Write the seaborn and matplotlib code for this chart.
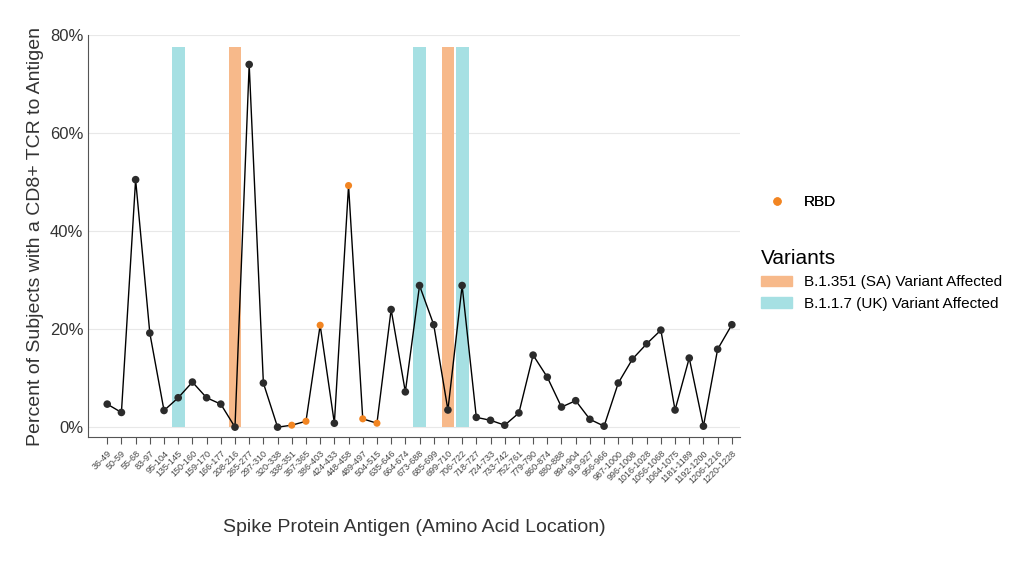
import numpy as np
import pandas as pd
import matplotlib
matplotlib.use("Agg")
import matplotlib.pyplot as plt
import seaborn as sns
from matplotlib.patches import Patch
from matplotlib.lines import Line2D
from matplotlib.ticker import FuncFormatter

antigens = ["36-49", "50-59", "55-68", "83-97", "95-104", "135-145", "150-160", "159-170",
            "166-177", "208-216", "265-277", "297-310", "320-338", "338-351", "357-365",
            "386-403", "424-433", "448-458", "489-497", "504-515", "635-646", "664-674",
            "673-688", "685-699", "699-710", "706-722", "718-727", "724-733", "733-742",
            "752-761", "779-790", "860-874", "880-888", "894-904", "919-927", "956-966",
            "987-1000", "996-1008", "1016-1028", "1056-1068", "1064-1075", "1181-1189",
            "1192-1200", "1206-1216", "1220-1228"]
percent = [4.7, 3.0, 50.5, 19.2, 3.4, 6.0, 9.2, 6.0, 4.7, 0.0, 74.0, 9.0, 0.0, 0.4, 1.2,
           20.8, 0.8, 49.3, 1.7, 0.8, 24.0, 7.2, 28.9, 20.9, 3.5, 28.9, 2.0, 1.4, 0.4, 2.9,
           14.7, 10.2, 4.1, 5.4, 1.6, 0.2, 9.0, 13.9, 17.0, 19.8, 3.5, 14.1, 0.2, 15.9, 20.9]
rbd = ["338-351", "357-365", "386-403", "448-458", "489-497", "504-515"]
sa_affected = ["208-216", "699-710"]
uk_affected = ["135-145", "673-688", "706-722"]
bar_height = 77.5

SA_COLOR = "#f7b98a"
UK_COLOR = "#a6e0e3"
RBD_COLOR = "#f28522"
PT_COLOR = "#2b2b2b"

df = pd.DataFrame({"antigen": antigens, "percent": percent})
df["x"] = np.arange(len(df))
df["rbd"] = df["antigen"].isin(rbd)

plt.rcParams["font.family"] = "Liberation Sans"
fig = plt.figure(figsize=(10.24, 5.66), dpi=100)
ax = fig.add_axes([0.086, 0.228, 0.637, 0.71])

bars = pd.DataFrame({"antigen": sa_affected + uk_affected,
                     "kind": ["SA"] * len(sa_affected) + ["UK"] * len(uk_affected)})
bars["x"] = bars["antigen"].map(dict(zip(df["antigen"], df["x"])))
for _, b in bars.iterrows():
    ax.bar(b["x"], bar_height, width=0.9, color=SA_COLOR if b["kind"] == "SA" else UK_COLOR,
           zorder=1)

sns.lineplot(data=df, x="x", y="percent", color="black", linewidth=1, ax=ax, zorder=2)
sns.scatterplot(data=df[~df["rbd"]], x="x", y="percent", color=PT_COLOR, s=30,
                edgecolor="none", ax=ax, zorder=3)
sns.scatterplot(data=df[df["rbd"]], x="x", y="percent", color=RBD_COLOR, s=26,
                edgecolor="none", ax=ax, zorder=3)

ax.set_xlim(-1.35, len(df) - 0.4)
ax.set_ylim(-2, 80)
ax.set_yticks([0, 20, 40, 60, 80])
ax.yaxis.set_major_formatter(FuncFormatter(lambda v, p: f"{v:.0f}%"))
ax.set_xticks(df["x"])
ax.set_xticklabels(df["antigen"], rotation=45, ha="right", rotation_mode="anchor",
                   fontsize=6.5, color="#444444")
ax.tick_params(axis="y", labelsize=12, colors="#333333", length=0)
ax.tick_params(axis="x", length=5, color="#555555")
ax.grid(axis="y", color="#e8e8e8", linewidth=0.8, zorder=0)
ax.set_axisbelow(True)
for s in ["top", "right"]:
    ax.spines[s].set_visible(False)
for s in ["left", "bottom"]:
    ax.spines[s].set_color("#555555")
ax.set_xlabel("Spike Protein Antigen (Amino Acid Location)", fontsize=14, color="#333333",
              labelpad=24)
ax.set_ylabel("Percent of Subjects with a CD8+ TCR to Antigen", fontsize=14, color="#333333")

leg1 = fig.legend(handles=[Line2D([], [], marker="o", linestyle="none", color=RBD_COLOR,
                                  markersize=5, label="RBD")],
                  loc="upper left", bbox_to_anchor=(0.73, 0.68), frameon=False, fontsize=11)
fig.legend(handles=[Patch(color=SA_COLOR, label="B.1.351 (SA) Variant Affected"),
                    Patch(color=UK_COLOR, label="B.1.1.7 (UK) Variant Affected")],
           title="Variants", title_fontsize=15, loc="upper left", alignment="left",
           bbox_to_anchor=(0.73, 0.585), frameon=False, fontsize=11)
fig.add_artist(leg1)

fig.savefig("out.png", dpi=100)
